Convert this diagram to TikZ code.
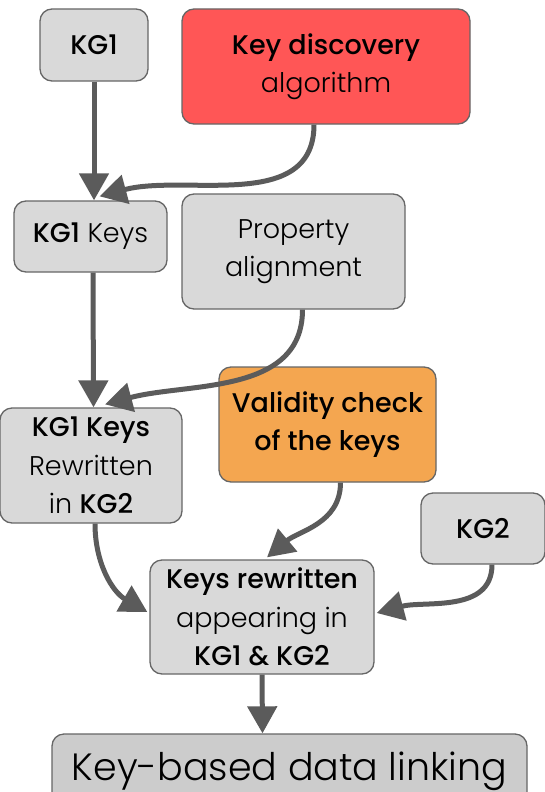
\documentclass[tikz,border=0pt]{standalone}
\usepackage{fontspec}
\setmainfont{Poppins}[UprightFont={* Light}, BoldFont={* Medium}]
\usetikzlibrary{arrows.meta,calc}
\definecolor{boxgray}{HTML}{D9D9D9}
\definecolor{boxdark}{HTML}{CCCCCC}
\definecolor{boxred}{HTML}{FF5656}
\definecolor{boxorange}{HTML}{F4A650}
\definecolor{edgegray}{HTML}{666666}
\definecolor{arrowgray}{HTML}{5B5B5B}
\tikzset{
  box/.style={draw=edgegray, line width=1.3pt, rounded corners=12pt, fill=boxgray,
    align=center, inner sep=0pt, font=\fontsize{27}{38.5}\selectfont},
  flow/.style={draw=arrowgray, line width=5pt, -{Triangle[length=27pt,width=29pt]}},
}
\begin{document}
\begin{tikzpicture}[x=1pt,y=-1pt]
\useasboundingbox (0,0) rectangle (545,792);
\node[box, minimum width=108pt, minimum height=72pt] (kg1) at (94,45) {\textbf{KG1}};
\node[box, fill=boxred, minimum width=288pt, minimum height=115pt] (kd) at (326,66.5) {\textbf{Key discovery}\\algorithm};
\node[box, minimum width=153pt, minimum height=71pt] (k1keys) at (90.5,236.5) {\textbf{KG1} Keys};
\node[box, minimum width=223pt, minimum height=115pt] (pa) at (293.5,251.5) {Property\\alignment};
\node[box, minimum width=182pt, minimum height=115pt] (rw) at (91,465.5) {\textbf{KG1 Keys}\\Rewritten\\in \textbf{KG2}};
\node[box, fill=boxorange, minimum width=217pt, minimum height=115pt] (vc) at (327.5,424.5) {\textbf{Validity check}\\\textbf{of the keys}};
\node[box, minimum width=124pt, minimum height=71pt] (kg2) at (483,528.5) {\textbf{KG2}};
\node[box, minimum width=224pt, minimum height=114pt] (kr) at (262,617) {\textbf{Keys rewritten}\\appearing in\\\textbf{KG1 \& KG2}};
\node[box, fill=boxdark, minimum width=475pt, minimum height=80pt, font=\fontsize{38}{40}\selectfont, text height=28pt, text depth=16pt] (kb) at (289.5,774) {Key-based data linking};
\draw[flow] (kg1.south) -- ($(k1keys.north)+(3.5,0)$);
\draw[flow] ($(kd.south)+(-12,0)$) to[out=-90,in=15] ($(k1keys.north)+(9,-4)$);
\draw[flow] ($(k1keys.south)+(2.5,0)$) -- ($(rw.north)+(2.5,0)$);
\draw[flow] ($(pa.south)+(9,0)$) to[out=-90,in=15] ($(rw.north)+(14,-3)$);
\draw[flow] ($(vc.south)+(13,0)$) to[out=-90,in=40] ($(kr.north)+(5,-2)$);
\draw[flow] ($(rw.south)+(4,0)$) to[out=-90,in=150] ($(kr.west)+(-2,-5)$);
\draw[flow] ($(kg2.south)+(9,0)$) to[out=-90,in=15] ($(kr.east)+(2,-4)$);
\draw[flow] (kr.south) -- ($(kb.north)+(-27,0)$);
\end{tikzpicture}
\end{document}
